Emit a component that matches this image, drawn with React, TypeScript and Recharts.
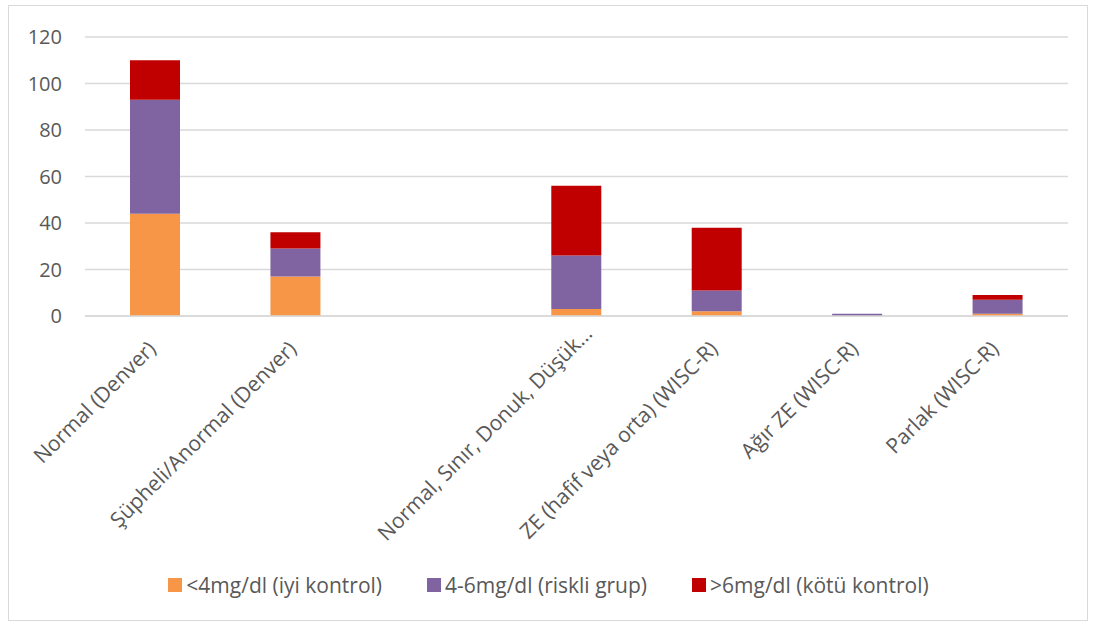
import { BarChart, Bar, XAxis, YAxis, CartesianGrid, Legend } from "recharts";

const categories = [
  "Normal (Denver)",
  "Şüpheli/Anormal (Denver)",
  "",
  "Normal, Sınır, Donuk, Düşük…",
  "ZE (hafif veya orta) (WISC-R)",
  "Ağır ZE (WISC-R)",
  "Parlak (WISC-R)",
];
const good = [44, 17, null, 3, 2, 0, 1];
const risky = [49, 12, null, 23, 9, 1, 6];
const bad = [17, 7, null, 30, 27, 0, 2];
const yTicks = [0, 20, 40, 60, 80, 100, 120];

const series = [
  { key: "good", name: "<4mg/dl (iyi kontrol)", color: "#F79646" },
  { key: "risky", name: "4-6mg/dl (riskli grup)", color: "#8064A2" },
  { key: "bad", name: ">6mg/dl (kötü kontrol)", color: "#C00000" },
];

const data = categories.map((name, i) => ({
  name,
  good: good[i],
  risky: risky[i],
  bad: bad[i],
}));

const textColor = "#595959";
const font = "'Open Sans', sans-serif";

// rotated category label, anchored at its end like Excel does
function XTick({ x, y, payload }: any) {
  const label: string = payload.value;
  if (!label) return null;
  const shift = label.endsWith("…") ? 15 : 0;
  const px = x + 2 + shift;
  const py = y + 26 - shift;
  return (
    <text
      x={px}
      y={py}
      transform={`rotate(-45, ${px}, ${py})`}
      textAnchor="end"
      fill={textColor}
      fontSize={21}
      fontFamily={font}
    >
      {label}
    </text>
  );
}

function LegendBox() {
  return (
    <div style={{ display: "flex", justifyContent: "center", gap: 45, paddingLeft: 20, fontFamily: font, fontSize: 21, color: textColor, height: 26, alignItems: "center" }}>
      {series.map((s) => (
        <div key={s.key} style={{ display: "flex", alignItems: "center", gap: 4 }}>
          <span style={{ display: "inline-block", width: 14, height: 14, background: s.color }} />
          <span>{s.name}</span>
        </div>
      ))}
    </div>
  );
}

export default function App() {
  return (
    <div style={{ position: "absolute", left: 8, top: 5, width: 1078, height: 614, border: "1px solid #d9d9d9", background: "#fff" }}>
      <BarChart
        width={1078}
        height={614}
        data={data}
        barSize={50}
        margin={{ top: 31, right: 19, left: 0, bottom: 38 }}
        style={{ fontFamily: font }}
      >
        <CartesianGrid vertical={false} stroke="#d9d9d9" strokeWidth={1.5} />
        <XAxis
          dataKey="name"
          interval={0}
          height={240}
          tickLine={false}
          axisLine={{ stroke: "#d9d9d9", strokeWidth: 1.5 }}
          tick={<XTick />}
        />
        <YAxis
          width={76}
          domain={[0, 120]}
          ticks={yTicks}
          tickLine={false}
          axisLine={false}
          tickMargin={17}
          tick={{ fill: textColor, fontSize: 20, fontFamily: font }}
        />
        <Legend
          verticalAlign="bottom"
          wrapperStyle={{ bottom: 22 }}
          content={() => <LegendBox />}
        />
        {series.map((s) => (
          <Bar key={s.key} dataKey={s.key} name={s.name} stackId="a" fill={s.color} isAnimationActive={false} />
        ))}
      </BarChart>
    </div>
  );
}
